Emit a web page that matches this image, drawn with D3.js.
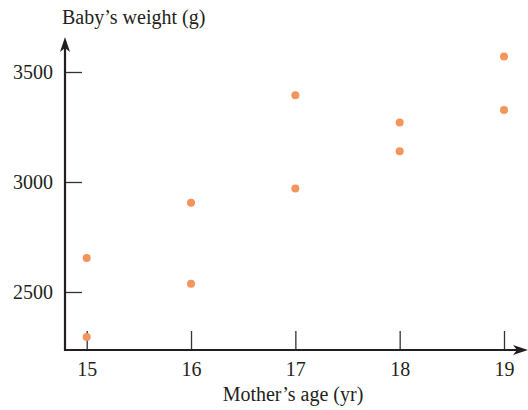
<!DOCTYPE html>
<html>
<head>
<meta charset="utf-8">
<script src="https://cdn.jsdelivr.net/npm/d3@7"></script>
<style>
  html, body { margin: 0; padding: 0; background: #fff; }
  svg { display: block; }
  text { font-family: "Liberation Serif", "Times New Roman", serif; fill: #231f20; }
</style>
</head>
<body>
<svg id="chart" width="528" height="410"></svg>
<script>
const ages = [15, 15, 16, 16, 17, 17, 18, 18, 19, 19];
const weights = [2295, 2655, 2538, 2906, 2971, 3394, 3140, 3271, 3327, 3570];
const xTicks = [15, 16, 17, 18, 19];
const yTicks = [2500, 3000, 3500];
const xTitle = "Mother’s age (yr)";
const yTitle = "Baby’s weight (g)";

const svg = d3.select("#chart");
const axisColor = "#231f20";
const dotColor = "#f5945b";

const x = d3.scaleLinear().domain([15, 19]).range([86.7, 504]);
const y = d3.scaleLinear().domain([2500, 3500]).range([292, 72]);

const originX = 65, originY = 350;

// x ticks
const xAxis = svg.append("g")
  .attr("transform", `translate(0,${originY})`)
  .call(d3.axisBottom(x).tickValues(xTicks).tickFormat(d3.format("d")).tickSizeInner(-19).tickSizeOuter(0).tickPadding(12));
xAxis.select(".domain").remove();
xAxis.selectAll(".tick line").attr("stroke", "#333").attr("stroke-width", 1.3);
xAxis.selectAll(".tick text").attr("font-size", 20).attr("font-family", "Liberation Serif, serif").attr("fill", axisColor);

// y ticks
const yAxis = svg.append("g")
  .attr("transform", `translate(${originX},0)`)
  .call(d3.axisLeft(y).tickValues(yTicks).tickFormat(d3.format("d")).tickSizeInner(-17).tickSizeOuter(0).tickPadding(12));
yAxis.select(".domain").remove();
yAxis.selectAll(".tick line").attr("stroke", "#333").attr("stroke-width", 1.3);
yAxis.selectAll(".tick text").attr("font-size", 20).attr("font-family", "Liberation Serif, serif").attr("fill", axisColor);

// axis lines
svg.append("line").attr("x1", originX).attr("y1", originY + 1).attr("x2", originX).attr("y2", 44)
  .attr("stroke", axisColor).attr("stroke-width", 2.2);
svg.append("line").attr("x1", originX - 1).attr("y1", originY).attr("x2", 521).attr("y2", originY)
  .attr("stroke", axisColor).attr("stroke-width", 2.2);

// arrowheads
svg.append("path")
  .attr("d", `M${originX},37 L${originX + 5},52 L${originX},48 L${originX - 5},52 Z`)
  .attr("fill", axisColor);
svg.append("path")
  .attr("d", `M528,${originY} L513,${originY - 5} L517,${originY} L513,${originY + 5} Z`)
  .attr("fill", axisColor);

// points
svg.append("g").selectAll("circle")
  .data(ages.map((a, i) => ({a, w: weights[i]})))
  .join("circle")
  .attr("cx", d => x(d.a))
  .attr("cy", d => y(d.w))
  .attr("r", 4)
  .attr("fill", dotColor);

// titles
svg.append("text").attr("x", 62).attr("y", 24).attr("font-size", 20).text(yTitle);
svg.append("text").attr("x", 293).attr("y", 401).attr("text-anchor", "middle").attr("font-size", 20).text(xTitle);
</script>
</body>
</html>
